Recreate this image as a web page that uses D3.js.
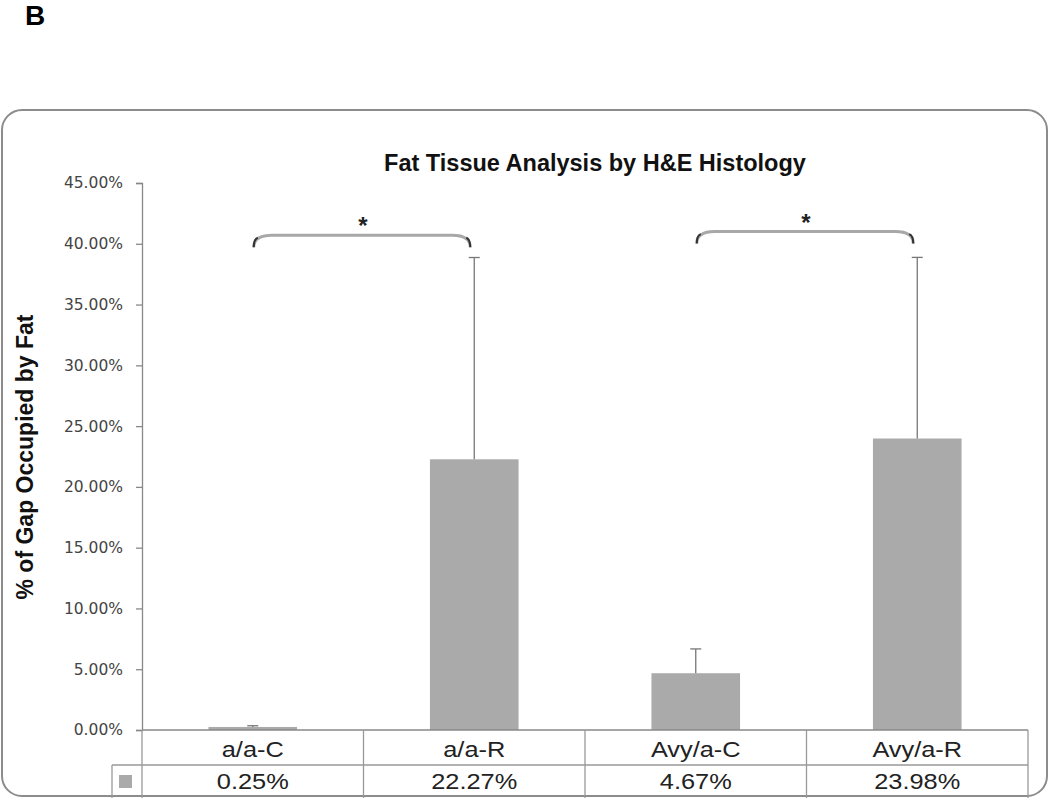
<!DOCTYPE html>
<html>
<head>
<meta charset="utf-8">
<script src="https://cdn.jsdelivr.net/npm/d3@7"></script>
<style>
  body { margin: 0; background: #fff; }
  svg { display: block; font-family: 'Liberation Sans', Arial, sans-serif; }
</style>
</head>
<body>
<svg></svg>
<script>
let width = 1050
let height = 801

// data
let groups = ['a/a-C', 'a/a-R', 'Avy/a-C', 'Avy/a-R']
let means = [0.25, 22.27, 4.67, 23.98]
let errors = [0.1, 16.6, 2.0, 14.9]
let yTicks = [0, 5, 10, 15, 20, 25, 30, 35, 40, 45]
let brackets = [
    { from: 'a/a-C', to: 'a/a-R', level: 40.7 },
    { from: 'Avy/a-C', to: 'Avy/a-R', level: 41.0 }
]

let margin = { left: 142, right: 22, top: 183, bottom: 71 }
let plotBottom = height - margin.bottom   // 730

let svg = d3.select('svg')
    .attr('width', width)
    .attr('height', height)

// panel letter
svg.append('text')
    .attr('x', 25).attr('y', 25)
    .style('font-size', '28px').style('font-weight', 'bold')
    .text('B')

// rounded frame
svg.append('rect')
    .attr('x', 2).attr('y', 110)
    .attr('width', 1045).attr('height', 686)
    .attr('rx', 20).attr('ry', 20)
    .attr('fill', 'none')
    .attr('stroke', '#8c8c8c')
    .attr('stroke-width', 2)

let x = d3.scaleBand()
    .domain(groups)
    .range([margin.left, width - margin.right])
    .paddingInner(0).paddingOuter(0)

let y = d3.scaleLinear()
    .domain([0, 45])
    .range([plotBottom, margin.top])

let barW = x.bandwidth() * 0.4
let cx = g => x(g) + x.bandwidth() / 2

// title
svg.append('text')
    .attr('x', 595).attr('y', 171)
    .attr('text-anchor', 'middle')
    .style('font-size', '23.5px').style('font-weight', 'bold')
    .attr('fill', '#111')
    .text('Fat Tissue Analysis by H&E Histology')

// y label
svg.append('text')
    .attr('transform', 'translate(33,457) rotate(-90)')
    .attr('text-anchor', 'middle')
    .style('font-size', '23px').style('font-weight', 'bold')
    .attr('fill', '#111')
    .text('% of Gap Occupied by Fat')

// y axis
let yAxis = svg.append('g')
    .attr('transform', `translate(${margin.left},0)`)
    .call(d3.axisLeft(y).tickValues(yTicks).tickSize(6).tickPadding(13)
        .tickFormat(d => d.toFixed(2) + '%'))
yAxis.select('.domain').attr('stroke', '#888').attr('stroke-width', 1.3)
yAxis.selectAll('.tick line').attr('stroke', '#888').attr('stroke-width', 1.3)
yAxis.selectAll('.tick text')
    .attr('fill', '#444')
    .style('font-family', "'DejaVu Sans', sans-serif")
    .style('font-size', '15.5px')

// bars
svg.append('g').selectAll('rect')
    .data(groups).enter()
    .append('rect')
    .attr('x', d => cx(d) - barW / 2)
    .attr('y', (d, i) => y(means[i]))
    .attr('width', barW)
    .attr('height', (d, i) => plotBottom - y(means[i]))
    .attr('fill', '#aaaaaa')

// error bars (upper only)
let err = svg.append('g').selectAll('g')
    .data(groups).enter()
    .append('g')
    .attr('stroke', '#777').attr('stroke-width', 1.3)
err.append('line')
    .attr('x1', d => cx(d)).attr('x2', d => cx(d))
    .attr('y1', (d, i) => y(means[i]))
    .attr('y2', (d, i) => y(means[i] + errors[i]))
err.append('line')
    .attr('x1', d => cx(d) - 5.5).attr('x2', d => cx(d) + 5.5)
    .attr('y1', (d, i) => y(means[i] + errors[i]))
    .attr('y2', (d, i) => y(means[i] + errors[i]))

// significance brackets
let bx0 = d => cx(d.from) + 1
let bx1 = d => cx(d.to) - 4
let bg = svg.append('g').selectAll('g')
    .data(brackets).enter()
    .append('g')
bg.append('path')
    .attr('fill', 'none')
    .attr('stroke', '#a8a8a8')
    .attr('stroke-width', 3)
    .attr('d', d => {
        let x0 = bx0(d), x1 = bx1(d), yy = y(d.level), r = 12
        return `M${x0},${yy + r} Q${x0},${yy} ${x0 + r * 1.5},${yy} L${x1 - r * 1.5},${yy} Q${x1},${yy} ${x1},${yy + r}`
    })
bg.append('path')
    .attr('fill', 'none')
    .attr('stroke', '#333')
    .attr('stroke-width', 2)
    .attr('d', d => {
        let x0 = bx0(d), x1 = bx1(d), yy = y(d.level), r = 12
        return `M${x0},${yy + r} Q${x0},${yy + 4} ${x0 + 4},${yy + 2.5} M${x1},${yy + r} Q${x1},${yy + 4} ${x1 - 4},${yy + 2.5}`
    })
bg.append('text')
    .attr('x', d => (bx0(d) + bx1(d)) / 2 + 1)
    .attr('y', d => y(d.level) - 1)
    .attr('text-anchor', 'middle')
    .style('font-size', '24px').style('font-weight', 'bold')
    .attr('fill', '#222')
    .text('*')

// data table
let rowA = plotBottom, rowB = 765, rowC = 798
let legendX = 112
let table = svg.append('g').attr('stroke', '#999').attr('stroke-width', 1.3)
table.append('line').attr('x1', margin.left).attr('x2', width - margin.right)
    .attr('y1', rowA).attr('y2', rowA).attr('stroke', '#888')
table.append('line').attr('x1', legendX).attr('x2', width - margin.right)
    .attr('y1', rowB).attr('y2', rowB)
table.append('line').attr('x1', legendX).attr('x2', legendX)
    .attr('y1', rowB).attr('y2', rowC)
table.append('line').attr('x1', margin.left).attr('x2', margin.left)
    .attr('y1', rowA).attr('y2', rowC)
table.selectAll('.col')
    .data(groups).enter()
    .append('line')
    .attr('class', 'col')
    .attr('x1', d => x(d) + x.bandwidth()).attr('x2', d => x(d) + x.bandwidth())
    .attr('y1', rowA).attr('y2', rowC)

svg.append('rect')
    .attr('x', 119).attr('y', 775)
    .attr('width', 13).attr('height', 13)
    .attr('fill', '#aaaaaa')

// table text is a little wide in the original, so stretch it sideways
svg.append('g').selectAll('text')
    .data(groups).enter()
    .append('text')
    .attr('transform', d => `translate(${cx(d)},757) scale(1.18,1)`)
    .attr('text-anchor', 'middle')
    .style('font-size', '21.5px')
    .attr('fill', '#222')
    .text(d => d)

svg.append('g').selectAll('text')
    .data(groups).enter()
    .append('text')
    .attr('transform', d => `translate(${cx(d)},789) scale(1.18,1)`)
    .attr('text-anchor', 'middle')
    .style('font-size', '21.5px')
    .attr('fill', '#222')
    .text((d, i) => means[i].toFixed(2) + '%')
</script>
</body>
</html>
